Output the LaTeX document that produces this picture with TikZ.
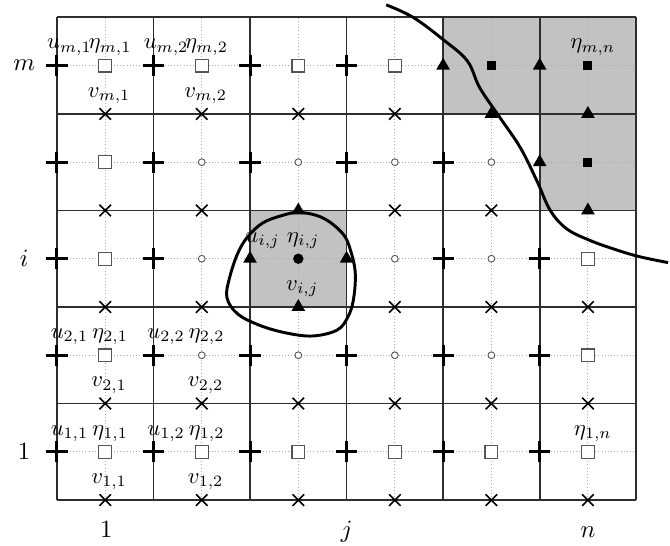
\documentclass[tikz,border=0pt]{standalone}
\usepackage{xcolor}
\usepackage{tikz}
\usetikzlibrary{shapes.geometric,shapes.misc}
\usepackage{amsmath}
\definecolor{gridline}{HTML}{2E2E2E}
\definecolor{guide}{HTML}{ABABAB}
\definecolor{cellgrey}{HTML}{C2C2C2}
\definecolor{hollow}{HTML}{555555}

\tikzset{
  umark/.style={cross out, rotate=45, draw=black, line width=1.3pt, inner sep=0pt, minimum size=5.3pt},
  vmark/.style={cross out, draw=black, line width=0.7pt, inner sep=0pt, minimum size=4.4pt},
  trimark/.style={regular polygon, regular polygon sides=3, fill=black, inner sep=0pt, minimum size=7pt},
  boxmark/.style={rectangle, draw=hollow, fill=white, line width=0.5pt, inner sep=0pt, minimum size=5.6pt},
  solidbox/.style={rectangle, fill=black, inner sep=0pt, minimum size=4pt},
  ringmark/.style={circle, draw=hollow, fill=white, line width=0.4pt, inner sep=0pt, minimum size=3pt},
  dotmark/.style={circle, fill=black, inner sep=0pt, minimum size=4.6pt},
  tag/.style={inner sep=0pt, font=\normalsize},
  axis/.style={inner sep=0pt, font=\fontsize{11}{13}\selectfont},
  curve/.style={line width=1.3pt, black}
}

\begin{document}
\begin{tikzpicture}[x=1.5cm,y=1.5cm]
  \useasboundingbox (-0.59,-0.47) rectangle (6.35,5.18);

  % shaded cells
  \fill[cellgrey] (2,2) rectangle (3,3);
  \fill[cellgrey] (4,4) rectangle (6,5) (5,3) rectangle (6,4);

  % lines through the cell centres
  \foreach \c in {1,...,6}
    \draw[guide, densely dotted, line width=0.4pt] (\c-0.5,0) -- (\c-0.5,5);
  \foreach \r in {1,...,5}
    \draw[guide, densely dotted, line width=0.4pt] (0,\r-0.5) -- (6,\r-0.5);

  % the mesh
  \foreach \c in {0,...,6}
    \draw[gridline, line width=0.8pt] (\c,0) -- (\c,5);
  \foreach \r in {0,...,5}
    \draw[gridline, line width=0.8pt] (0,\r) -- (6,\r);

  % boundaries
  \draw[curve] plot[smooth cycle, tension=0.6] coordinates {
    (2.52,2.98) (2.76,2.92) (2.96,2.76) (3.04,2.59) (3.09,2.35) (3.07,2.07)
    (3.01,1.89) (2.90,1.76) (2.65,1.70) (2.38,1.73) (2.10,1.81) (1.87,1.93)
    (1.76,2.10) (1.79,2.31) (1.87,2.55) (1.97,2.72) (2.13,2.87) (2.34,2.95)};
  \draw[curve] plot[smooth, tension=0.6] coordinates {
    (3.41,5.13) (3.69,5.0) (4.0,4.77) (4.25,4.55) (4.38,4.27) (4.59,3.96)
    (4.80,3.65) (4.97,3.31) (5.11,3.0) (5.28,2.81) (5.52,2.69) (5.80,2.59)
    (6.04,2.52) (6.33,2.46)};

  % u points
  \foreach \r/\cols in {1/{1,...,6},2/{1,...,6},3/{1,2,5,6},4/{1,...,5},5/{1,...,4}}
    \foreach \c in \cols
      \node[umark] (u-\r-\c) at (\c-1,\r-0.5) {};
  \foreach \r/\c in {5/5,5/6,4/6,3/3,3/4}
    \node[trimark] (u-\r-\c) at (\c-1,\r-0.5) {};

  % v points
  \foreach \r/\cols in {1/{1,...,6},2/{1,...,6},3/{1,2,4,5,6},4/{1,2,4,5},5/{1,...,4}}
    \foreach \c in \cols
      \node[vmark] (v-\r-\c) at (\c-0.5,\r-1) {};
  \foreach \r/\c in {5/5,5/6,4/6,4/3,3/3}
    \node[trimark] (v-\r-\c) at (\c-0.5,\r-1) {};

  % eta points
  \foreach \r/\cols in {1/{1,...,6},2/{1,6},3/{1,6},4/{1},5/{1,...,4}}
    \foreach \c in \cols
      \node[boxmark] (eta-\r-\c) at (\c-0.5,\r-0.5) {};
  \foreach \r/\cols in {2/{2,...,5},3/{2,4,5},4/{2,...,5}}
    \foreach \c in \cols
      \node[ringmark] (eta-\r-\c) at (\c-0.5,\r-0.5) {};
  \foreach \r/\c in {5/5,5/6,4/6}
    \node[solidbox] (eta-\r-\c) at (\c-0.5,\r-0.5) {};
  \node[dotmark] (eta-3-3) at (2.5,2.5) {};

  % labels
  \foreach \r/\c/\s in {5/1/{m,1},5/2/{m,2},2/1/{2,1},2/2/{2,2},1/1/{1,1},1/2/{1,2},3/3/{i,j}}{
    \node[tag] (ulab-\r-\c) at (\c-0.87,\r-0.31) {$u_{\s}$};
    \node[tag] (vlab-\r-\c) at (\c-0.46,\r-0.81) {$v_{\s}$};
  }
  \foreach \r/\c/\s in {5/1/{m,1},5/2/{m,2},5/6/{m,n},2/1/{2,1},2/2/{2,2},1/1/{1,1},1/2/{1,2},1/6/{1,n},3/3/{i,j}}
    \node[tag] (etalab-\r-\c) at (\c-0.45,\r-0.31) {$\eta_{\s}$};

  \node[axis] (row-m) at (-0.34,4.5) {$m$};
  \node[axis] (row-i) at (-0.34,2.5) {$i$};
  \node[axis] (row-1) at (-0.34,0.5) {$1$};
  \node[axis, anchor=base] (col-1) at (0.51,-0.39) {$1$};
  \node[axis, anchor=base] (col-j) at (3.0,-0.39) {$j$};
  \node[axis, anchor=base] (col-n) at (5.5,-0.39) {$n$};
\end{tikzpicture}
\end{document}
